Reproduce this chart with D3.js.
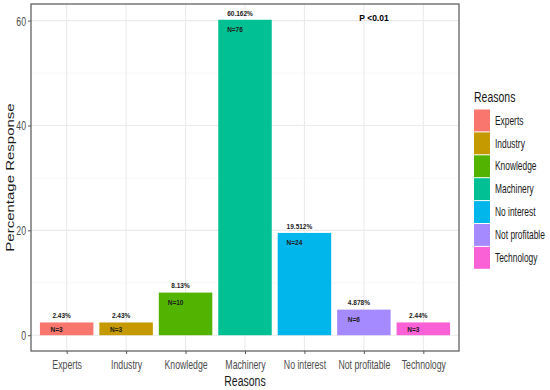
<!DOCTYPE html>
<html>
<head>
<meta charset="utf-8">
<script src="https://cdn.jsdelivr.net/npm/d3@7"></script>
<style>
  body { margin: 0; background: #fff; }
  svg { display: block; }
  text { font-family: "Liberation Sans", Arial, sans-serif; }
</style>
</head>
<body>
<svg id="chart" width="550" height="390"></svg>
<script>
const categories = ["Experts", "Industry", "Knowledge", "Machinery", "No interest", "Not profitable", "Technology"];
const percentages = [2.43, 2.43, 8.13, 60.162, 19.512, 4.878, 2.44];
const percentLabels = ["2.43%", "2.43%", "8.13%", "60.162%", "19.512%", "4.878%", "2.44%"];
const countLabels = ["N=3", "N=3", "N=10", "N=76", "N=24", "N=6", "N=3"];
const colors = ["#F8766D", "#C49A00", "#53B400", "#00C094", "#00B6EB", "#A58AFF", "#FB61D7"];
const yTicks = [0, 20, 40, 60];
const yMinor = [10, 30, 50];

const SX = 0.7; // horizontal squeeze of the reference image text
const svg = d3.select("#chart");
const panel = { left: 31, top: 4, right: 459, bottom: 351 };

const maxV = d3.max(percentages);
// ggplot-like discrete scale: 0.6 units of expansion each side, bar width 0.9
const x = d3.scalePoint().domain(categories)
  .range([panel.left, panel.right]).padding(0.6);
const bw = x.step() * 0.9;
const y = d3.scaleLinear().domain([-0.05 * maxV, maxV * 1.05]).range([panel.bottom, panel.top]);

function ntext(parent, tx, ty, size, anchor, str, opts = {}) {
  const rot = opts.rotate ? " rotate(-90)" : "";
  const sc = opts.rotate ? `scale(1,${SX})` : `scale(${SX},1)`;
  return parent.append("text")
    .attr("transform", `translate(${tx},${ty})${rot} ${sc}`)
    .attr("dy", "0.35em")
    .attr("text-anchor", anchor)
    .attr("font-size", size)
    .attr("fill", opts.fill || "#000")
    .text(str);
}

// grid
const g = svg.append("g");
g.selectAll(".ymin").data(yMinor).join("line")
  .attr("x1", panel.left).attr("x2", panel.right)
  .attr("y1", d => y(d)).attr("y2", d => y(d))
  .attr("stroke", "#f2f2f2").attr("stroke-width", 0.6);
g.selectAll(".ymaj").data(yTicks).join("line")
  .attr("x1", panel.left).attr("x2", panel.right)
  .attr("y1", d => y(d)).attr("y2", d => y(d))
  .attr("stroke", "#ebebeb").attr("stroke-width", 1.1);
g.selectAll(".xmaj").data(categories).join("line")
  .attr("x1", d => x(d)).attr("x2", d => x(d))
  .attr("y1", panel.top).attr("y2", panel.bottom)
  .attr("stroke", "#ebebeb").attr("stroke-width", 1.1);

// bars
svg.selectAll(".bar").data(categories).join("rect")
  .attr("x", d => x(d) - bw / 2)
  .attr("width", bw)
  .attr("y", (d, i) => y(percentages[i]))
  .attr("height", (d, i) => y(0) - y(percentages[i]))
  .attr("fill", (d, i) => colors[i]);

// percent labels
svg.selectAll(".pl").data(categories).join("text")
  .attr("x", d => x(d) - 5)
  .attr("y", (d, i) => y(percentages[i]) - 6.5)
  .attr("dy", "0.35em")
  .attr("text-anchor", "middle")
  .attr("font-weight", "bold").attr("font-size", 6.5).attr("fill", "#1a1a1a")
  .text((d, i) => percentLabels[i]);

// count labels
svg.selectAll(".nl").data(categories).join("text")
  .attr("x", d => x(d) - 10)
  .attr("y", (d, i) => y(percentages[i]) + Math.min(10, (y(0) - y(percentages[i])) / 2 + 1))
  .attr("dy", "0.35em")
  .attr("text-anchor", "middle")
  .attr("font-weight", "bold").attr("font-size", 6.5).attr("fill", "#1a1a1a")
  .text((d, i) => countLabels[i]);

// P value
svg.append("text").attr("x", 374).attr("y", 18.5).attr("dy", "0.35em")
  .attr("text-anchor", "middle")
  .attr("font-weight", "bold").attr("font-size", 8.5).attr("fill", "#000")
  .text("P <0.01");

// panel border
svg.append("rect").attr("x", panel.left).attr("y", panel.top)
  .attr("width", panel.right - panel.left).attr("height", panel.bottom - panel.top)
  .attr("fill", "none").attr("stroke", "#555").attr("stroke-width", 1.2);

// y axis
const yAxis = d3.axisLeft(y).tickValues(yTicks).tickSize(3).tickFormat(d3.format("d"));
const ya = svg.append("g").attr("transform", `translate(${panel.left},0)`).call(yAxis);
ya.select(".domain").remove();
ya.selectAll("line").attr("stroke", "#555");
ya.selectAll("text").remove();
ya.selectAll(".tick").each(function (d) {
  ntext(d3.select(this), -5, 0, 12.5, "end", String(d), { fill: "#4d4d4d" });
});

// x axis
const xAxis = d3.axisBottom(x).tickSize(3);
const xa = svg.append("g").attr("transform", `translate(0,${panel.bottom})`).call(xAxis);
xa.select(".domain").remove();
xa.selectAll("line").attr("stroke", "#555");
xa.selectAll("text").remove();
xa.selectAll(".tick").each(function (d) {
  ntext(d3.select(this), 0, 14, 12.5, "middle", d, { fill: "#4d4d4d" });
});

// axis titles
ntext(svg, (panel.left + panel.right) / 2, 381, 15, "middle", "Reasons", { fill: "#1a1a1a" });
ntext(svg, 10, (panel.top + panel.bottom) / 2, 15, "middle", "Percentage Response", { rotate: true, fill: "#1a1a1a" });

// legend
const leg = svg.append("g");
ntext(leg, 474, 97, 15, "start", "Reasons", { fill: "#1a1a1a" });
const keyH = 22.9, keyTop = 109;
leg.selectAll(".key").data(categories).join("rect")
  .attr("x", 474).attr("y", (d, i) => keyTop + i * keyH + 0.5)
  .attr("width", 16).attr("height", keyH - 1)
  .attr("fill", (d, i) => colors[i]);
categories.forEach((c, i) => {
  ntext(leg, 495, keyTop + i * keyH + keyH / 2, 12, "start", c, { fill: "#1a1a1a" });
});
</script>
</body>
</html>
